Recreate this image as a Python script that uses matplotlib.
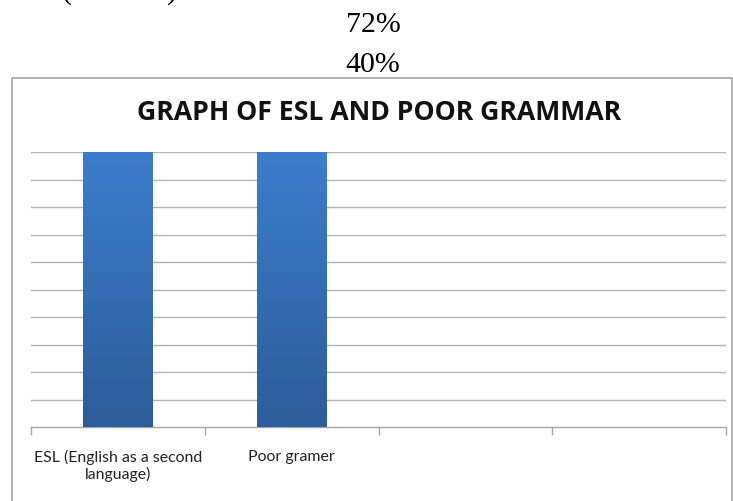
import numpy as np
import matplotlib
matplotlib.use("Agg")
import matplotlib.pyplot as plt
from matplotlib.patches import Rectangle

W, H = 733, 502
categories = ["ESL (English as a second\nlanguage)", "Poor gramer", "", ""]
values = [72, 40]          # percentages shown above the chart
top_labels = ["72%", "40%"]
title = "GRAPH OF ESL AND POOR GRAMMAR"

fig = plt.figure(figsize=(W / 100, H / 100), dpi=100)

def fx(px):
    return px / W

def fy(py):
    return 1 - py / H

# texts above the chart (from the surrounding document, cut at the top)
fig.text(fx(373), fy(25), top_labels[0], ha='center', va='center',
         family='Liberation Serif', fontsize=21.5)
fig.text(fx(373), fy(65), top_labels[1], ha='center', va='center',
         family='Liberation Serif', fontsize=21.5)
fig.text(fx(67), fy(5), "(", ha='center', va='bottom',
         family='Liberation Serif', fontsize=21.5)
fig.text(fx(172), fy(5), ")", ha='center', va='bottom',
         family='Liberation Serif', fontsize=21.5)

# chart frame
frame = Rectangle((fx(12), fy(560)), fx(720), (560 - 79) / H, transform=fig.transFigure,
                  fill=False, edgecolor='#a6a6a6', linewidth=1.2)
fig.patches.append(frame)

fig.text(fx(379), fy(113), title, ha='center', va='center',
         family='Open Sans', weight='bold', fontsize=19.2, color='#111111')

ax = fig.add_axes([fx(31), fy(428), fx(726 - 31), (428 - 153) / H])

x = np.arange(len(values)) + 0.5
bars = ax.bar(x, values, width=0.4, color='#3570b8', zorder=3)

# vertical gradient inside each bar
grad = np.linspace(0, 1, 256).reshape(-1, 1)
cmap = matplotlib.colors.LinearSegmentedColormap.from_list('bar', ['#2c5c99', '#3c7ecd'])
for b in bars:
    im = ax.imshow(grad, extent=[b.get_x(), b.get_x() + b.get_width(), 0, 10],
                   origin='lower', aspect='auto', cmap=cmap, zorder=4)
    im.set_clip_path(b)
ax.set_aspect('auto')
ax.set_xlim(0, len(categories))
ax.set_ylim(0, 10)

for yv in range(1, 11):
    ax.axhline(yv, color='#b3b3b3', linewidth=1, zorder=1)

for s in ['top', 'right', 'left']:
    ax.spines[s].set_visible(False)
ax.spines['bottom'].set_color('#a6a6a6')
ax.spines['bottom'].set_linewidth(1)
ax.set_yticks([])
ax.set_xticks(np.arange(len(categories) + 1))
ax.set_xticklabels([])
ax.tick_params(axis='x', length=6, color='#a6a6a6', width=1)
ax.set_xticks(np.arange(len(categories)) + 0.5, minor=True)
ax.set_xticklabels(categories, minor=True, family='Lato', fontsize=11.4, color='#222222',
                   linespacing=1.1)
ax.tick_params(axis='x', which='minor', length=0, pad=16)

fig.savefig("out.png", dpi=100)
